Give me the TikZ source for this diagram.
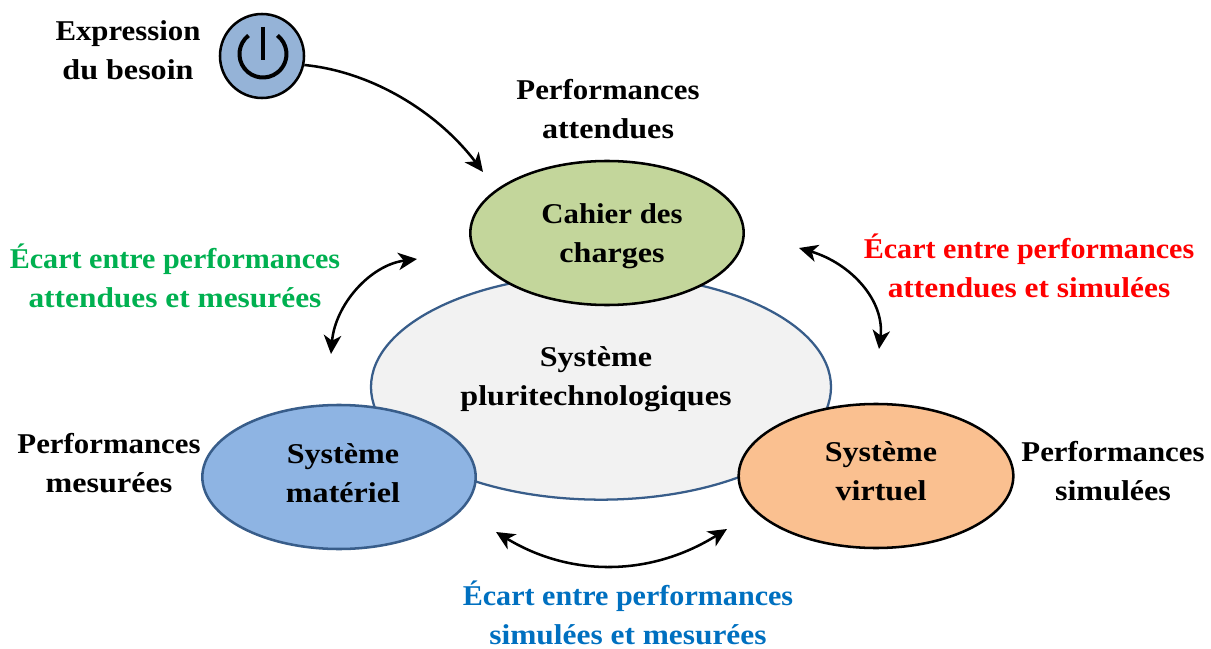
\documentclass[tikz,border=0pt]{standalone}
\usepackage{fontspec}
\setmainfont{Liberation Serif}[FakeStretch=1.12]
\newfontfamily\fb{Liberation Serif}[FakeStretch=1.075]
\newfontfamily\fc{Liberation Serif}[FakeStretch=1.05]
\newfontfamily\fd{Liberation Serif}[FakeStretch=1.095]
\usetikzlibrary{arrows.meta,shapes.geometric}
\definecolor{gfill}{HTML}{C3D69B}
\definecolor{gyfill}{HTML}{F2F2F2}
\definecolor{bfill}{HTML}{8EB4E3}
\definecolor{ofill}{HTML}{FAC090}
\definecolor{pfill}{HTML}{95B3D7}
\definecolor{edgeb}{HTML}{385D8A}
\definecolor{tgreen}{HTML}{00B050}
\definecolor{tblue}{HTML}{0070C0}
\tikzset{
  ell/.style={ellipse,draw=black,line width=1.9pt,inner sep=0pt,outer sep=0pt},
  lab/.style={align=center,font=\fontsize{21.5}{29.5}\selectfont\bfseries,inner sep=0pt},
  gap/.style={lab,font=\fontsize{21.5}{29.5}\fc\bfseries},
  tipm/.tip={Stealth[length=14pt,width=13pt,inset=4pt]},
  conn/.style={line width=1.9pt,-tipm},
  conb/.style={line width=1.9pt,tipm-tipm},
}
\begin{document}
\begin{tikzpicture}[x=0.75pt,y=-0.75pt]
\useasboundingbox (0,0) rectangle (1211,649);
% ellipses
\node[ell,draw=edgeb,fill=gyfill,minimum width=345pt,minimum height=169pt,line width=1.7pt] (sys) at (601,387) {};
\node[ell,fill=gfill,minimum width=205pt,minimum height=108pt] (cdc) at (607,233) {};
\node[ell,draw=edgeb,fill=bfill,minimum width=205pt,minimum height=108pt] (mat) at (339,477) {};
\node[ell,fill=ofill,minimum width=206pt,minimum height=108pt] (vir) at (876,476) {};
\node[circle,draw=black,line width=1.9pt,fill=pfill,minimum size=63pt,inner sep=0pt] (power) at (262,56) {};
% power glyph
\draw[line width=3pt] (248.5,35.5) arc[start angle=232,end angle=-52,radius=23.5];
\draw[line width=2.5pt] (263,27) -- (263,60);
% labels inside
\node[lab] (t1) at (612,236) {{\fb\bfseries Cahier des}\\charges};
\node[lab] (t2) at (596,379.5) {Système\\pluritechnologiques};
\node[lab] (t3) at (343,473) {Système\\matériel};
\node[lab] (t4) at (881,471) {Système\\virtuel};
% outer labels
\node[lab] (l1) at (128,50) {{\fb\bfseries Expression}\\du besoin};
\node[lab] (l2) at (608,109) {{\fb\bfseries Performances}\\attendues};
\node[lab] (l3) at (109,463) {{\fb\bfseries Performances}\\mesurées};
\node[lab] (l4) at (1113,471) {{\fb\bfseries Performances}\\simulées};
\node[gap,text=tgreen] (l5) at (175,276) {Écart entre performances\\{\fd\bfseries attendues et mesurées}};
\node[gap,text=red] (l6) at (1029,266) {Écart entre performances\\{\fd\bfseries attendues et simulées}};
\node[gap,text=tblue] (l7) at (628,613) {Écart entre performances\\{\fd\bfseries simulées et mesurées}};
% connectors
\coordinate (a1) at (483,172);
\coordinate (g1) at (417,259);
\coordinate (g2) at (331,354);
\coordinate (r1) at (799,248);
\coordinate (r2) at (879,349);
\coordinate (b1) at (496,532);
\coordinate (b2) at (727,529);
\draw[conn] (power.-12) .. controls (375,72) and (440,115) .. (a1);
\draw[conb] (g1) .. controls (370,265) and (335,305) .. (g2);
\draw[conb] (r1) .. controls (850,263) and (885,300) .. (r2);
\draw[conb] (b1) .. controls (570,577) and (650,577) .. (b2);
\end{tikzpicture}
\end{document}
